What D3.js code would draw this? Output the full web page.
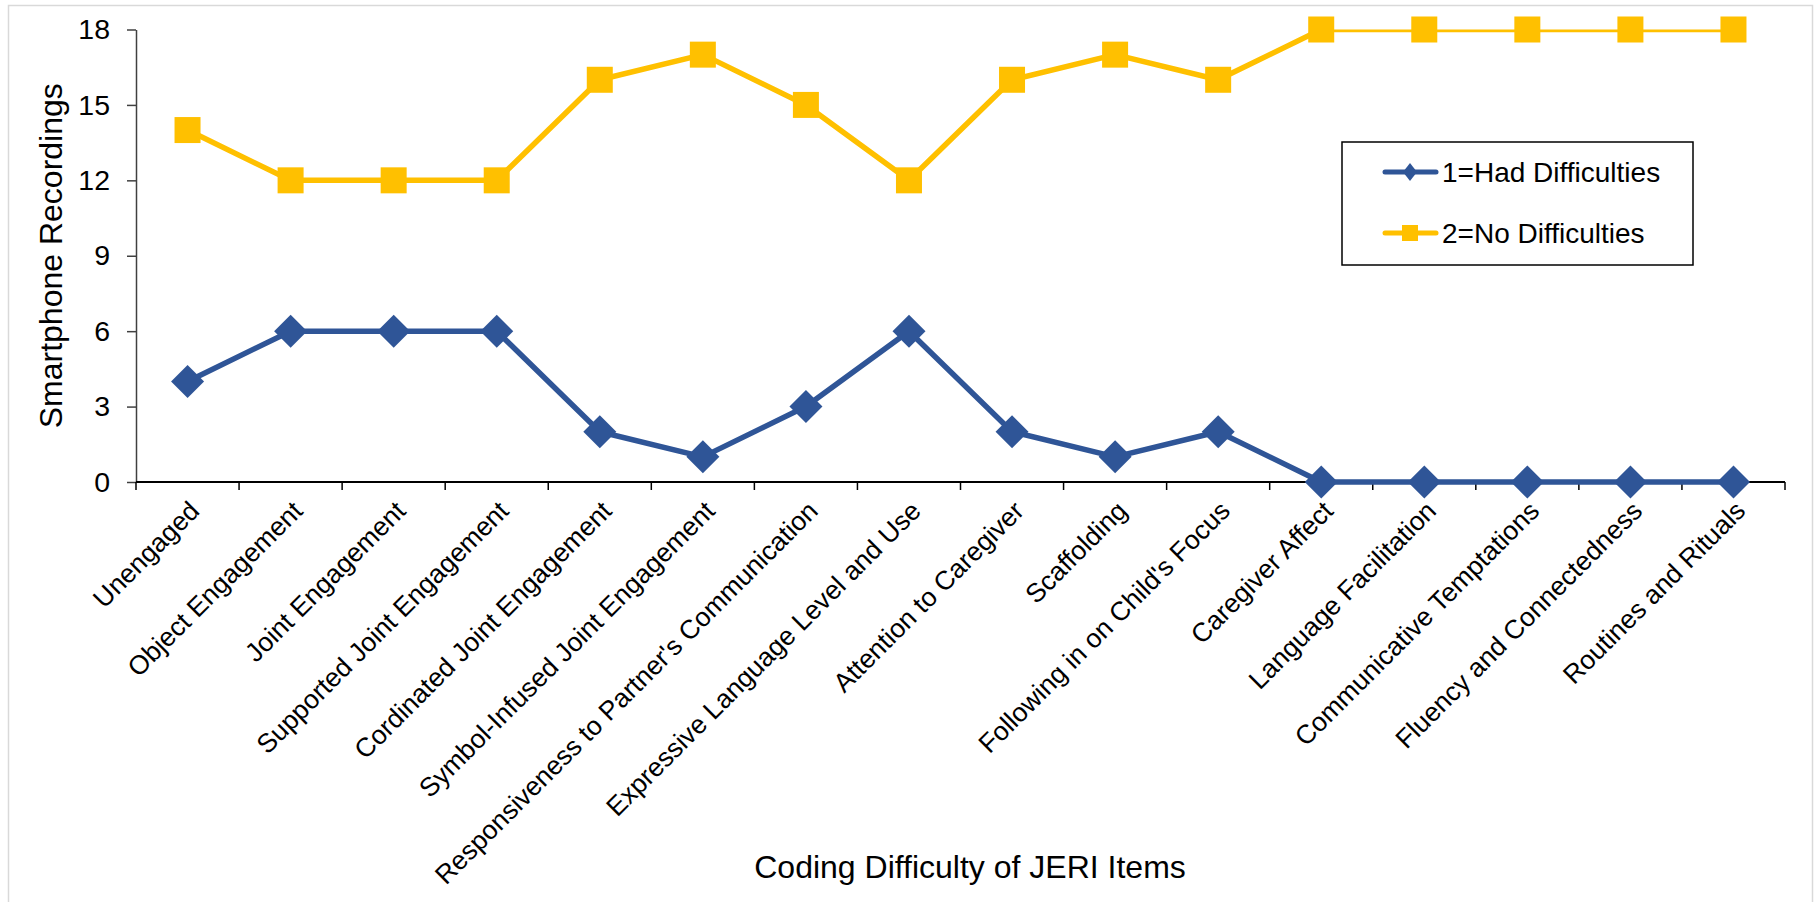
<!DOCTYPE html>
<html>
<head>
<meta charset="utf-8">
<script src="https://cdn.jsdelivr.net/npm/d3@7"></script>
<style>
  html, body { margin: 0; padding: 0; background: #fff; }
  svg { display: block; font-family: "Liberation Sans", Arial, sans-serif; }
</style>
</head>
<body>
<svg id="chart" width="1814" height="902"></svg>
<script>
const categories = [
  "Unengaged", "Object Engagement", "Joint Engagement", "Supported Joint Engagement",
  "Cordinated Joint Engagement", "Symbol-Infused Joint Engagement",
  "Responsiveness to Partner's Communication", "Expressive Language Level and Use",
  "Attention to Caregiver", "Scaffolding", "Following in on Child's Focus",
  "Caregiver Affect", "Language Facilitation", "Communicative Temptations",
  "Fluency and Connectedness", "Routines and Rituals"
];
const hadDifficulties = [4, 6, 6, 6, 2, 1, 3, 6, 2, 1, 2, 0, 0, 0, 0, 0];
const noDifficulties = [14, 12, 12, 12, 16, 17, 15, 12, 16, 17, 16, 18, 18, 18, 18, 18];
const yTicks = [0, 3, 6, 9, 12, 15, 18];
const seriesNames = ["1=Had Difficulties", "2=No Difficulties"];
const xTitle = "Coding Difficulty of JERI Items";
const yTitle = "Smartphone Recordings";

(function () {
const BLUE = "#2F5597", YELLOW = "#FFC000";
const FONT = "Liberation Sans, Arial, sans-serif";
const svg = d3.select("#chart");

// outer frame
svg.append("rect").attr("x", 8.5).attr("y", 5.5).attr("width", 1804).attr("height", 900)
  .attr("fill", "#fff").attr("stroke", "#d9d9d9").attr("stroke-width", 1.5);

const pLeft = 136, pRight = 1785, pTop = 29.5, pBottom = 482;
const x = d3.scaleBand().domain(categories).range([pLeft, pRight]);
const y = d3.scaleLinear().domain([0, 18]).range([pBottom, pTop]);

// y axis
const yAxis = svg.append("g").attr("transform", `translate(${pLeft},0)`)
  .call(d3.axisLeft(y).tickValues(yTicks).tickSize(9).tickPadding(17).tickSizeOuter(0));
yAxis.select(".domain").attr("stroke", "#404040").attr("stroke-width", 1.5);
yAxis.selectAll(".tick line").attr("stroke", "#404040").attr("stroke-width", 1.5);
yAxis.selectAll(".tick text").attr("font-size", 28.5).attr("fill", "#000")
  .attr("font-family", FONT);

// x axis (labels)
const xAxis = svg.append("g").attr("transform", `translate(0,${pBottom})`)
  .call(d3.axisBottom(x).tickSize(0).tickSizeOuter(0));
xAxis.select(".domain").remove();
xAxis.selectAll(".tick text")
  .attr("font-size", 26.5).attr("fill", "#000")
  .attr("font-family", FONT)
  .attr("x", 0).attr("y", 0).attr("dy", 0)
  .attr("text-anchor", "end")
  .attr("transform", "translate(13.5,30.5) rotate(-45)");

// x axis boundary ticks
const boundaries = categories.map(c => x(c)).concat([x(categories[categories.length - 1]) + x.bandwidth()]);
svg.append("g").selectAll("line").data(boundaries).join("line")
  .attr("x1", d => d).attr("x2", d => d).attr("y1", pBottom).attr("y2", pBottom + 8)
  .attr("stroke", "#000").attr("stroke-width", 1.5);
svg.append("line").attr("x1", pLeft).attr("x2", pRight).attr("y1", pBottom).attr("y2", pBottom)
  .attr("stroke", "#000").attr("stroke-width", 2);

// clip for lines (top clipped at plot area)
svg.append("clipPath").attr("id", "plotclip").append("rect")
  .attr("x", pLeft).attr("y", pTop).attr("width", pRight - pLeft).attr("height", pBottom - pTop + 20);

const cx = c => x(c) + x.bandwidth() / 2;
const line = d3.line().x((d, i) => cx(categories[i])).y(d => y(d));

svg.append("path").datum(noDifficulties).attr("d", line)
  .attr("fill", "none").attr("stroke", YELLOW).attr("stroke-width", 5.5)
  .attr("stroke-linejoin", "round").attr("clip-path", "url(#plotclip)");
svg.append("path").datum(hadDifficulties).attr("d", line)
  .attr("fill", "none").attr("stroke", BLUE).attr("stroke-width", 5.5)
  .attr("stroke-linejoin", "round");

// markers
const sq = 26;
svg.append("g").selectAll("rect").data(noDifficulties).join("rect")
  .attr("x", (d, i) => cx(categories[i]) - sq / 2).attr("y", d => y(d) - sq / 2)
  .attr("width", sq).attr("height", sq).attr("fill", YELLOW);
const dm = 16.5;
svg.append("g").selectAll("path").data(hadDifficulties).join("path")
  .attr("transform", (d, i) => `translate(${cx(categories[i])},${y(d)})`)
  .attr("d", `M0,${-dm}L${dm},0L0,${dm}L${-dm},0Z`).attr("fill", BLUE);

// axis titles
svg.append("text").attr("transform", `translate(62,${(pTop + pBottom) / 2}) rotate(-90)`)
  .attr("text-anchor", "middle").attr("font-size", 32).attr("fill", "#000").text(yTitle);
svg.append("text").attr("x", 970).attr("y", 878)
  .attr("text-anchor", "middle").attr("font-size", 32).attr("fill", "#000").text(xTitle);

// legend
const lg = svg.append("g");
lg.append("rect").attr("x", 1342).attr("y", 142).attr("width", 351).attr("height", 123)
  .attr("fill", "#fff").attr("stroke", "#000").attr("stroke-width", 1.5);
const legendRows = [
  { name: seriesNames[0], color: BLUE, shape: "diamond", yy: 172 },
  { name: seriesNames[1], color: YELLOW, shape: "square", yy: 233 }
];
legendRows.forEach(r => {
  lg.append("line").attr("x1", 1385).attr("x2", 1436).attr("y1", r.yy).attr("y2", r.yy)
    .attr("stroke", r.color).attr("stroke-width", 5).attr("stroke-linecap", "round");
  if (r.shape === "diamond") {
    lg.append("path").attr("transform", `translate(1410,${r.yy})`)
      .attr("d", "M0,-9L7,0L0,9L-7,0Z").attr("fill", r.color);
  } else {
    lg.append("rect").attr("x", 1410 - 8).attr("y", r.yy - 8).attr("width", 16).attr("height", 16)
      .attr("fill", r.color);
  }
  lg.append("text").attr("x", 1442).attr("y", r.yy).attr("dy", "0.35em")
    .attr("font-size", 28).attr("fill", "#000").text(r.name);
});
})();
</script>
</body>
</html>
